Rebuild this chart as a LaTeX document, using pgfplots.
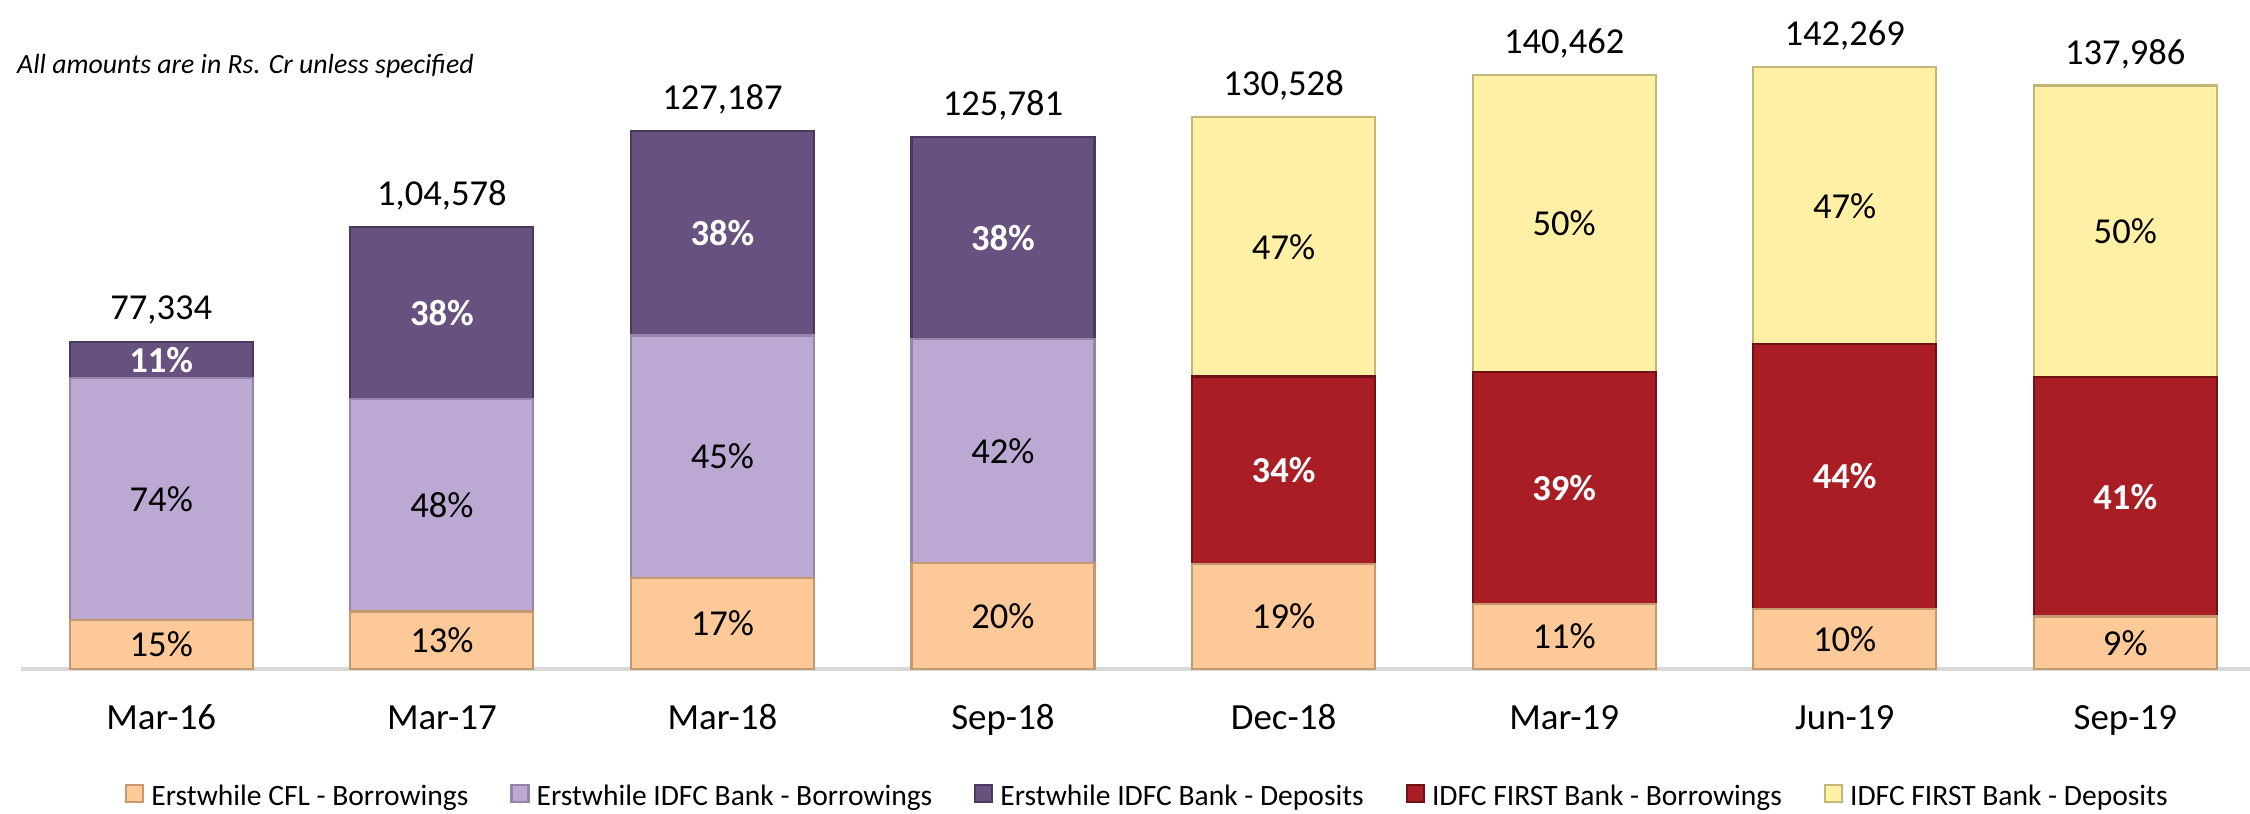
\documentclass[border=0pt]{standalone}
\usepackage{pgfplots}
\pgfplotsset{compat=1.18}
\usepackage{pgfplotstable}
\usepackage{fontspec}
\setmainfont{Carlito}

\definecolor{cflfill}{HTML}{FDC998}
\definecolor{cfldraw}{HTML}{C39A70}
\definecolor{ibbfill}{HTML}{BCA9D3}
\definecolor{ibbdraw}{HTML}{9484A8}
\definecolor{ibdfill}{HTML}{67517F}
\definecolor{ibddraw}{HTML}{4A3A5E}
\definecolor{fbfill}{HTML}{A81E24}
\definecolor{fbdraw}{HTML}{6E1216}
\definecolor{fdfill}{HTML}{FFF0A6}
\definecolor{fddraw}{HTML}{C2B678}
\definecolor{axisgray}{HTML}{D9D9D9}

% segment values in '000 Rs. Cr (total x share), labels as printed
\pgfplotstableread{
x cfl    ibb    ibd    fb     fd     pcfl  pibb  pibd  pfb   pfd
0 11.600 57.227 8.507  0      0      15\%  74\%  11\%  {}    {}
1 13.595 50.197 40.786 0      0      13\%  48\%  38\%  {}    {}
2 21.622 57.234 48.331 0      0      17\%  45\%  38\%  {}    {}
3 25.156 52.828 47.797 0      0      20\%  42\%  38\%  {}    {}
4 24.800 0      0      44.380 61.348 19\%  {}    {}    34\%  47\%
5 15.451 0      0      54.780 70.231 11\%  {}    {}    39\%  50\%
6 14.227 0      0      62.598 65.444 10\%  {}    {}    44\%  47\%
7 12.419 0      0      56.574 68.993 9\%   {}    {}    41\%  50\%
}\funding

% totals, '000 Rs. Cr and as printed
\pgfplotstableread{
x total   lbl
0 77.334  77,334
1 104.578 1,04,578
2 127.187 127,187
3 125.781 125,781
4 130.528 130,528
5 140.462 140,462
6 142.269 142,269
7 137.986 137,986
}\totals

\pgfplotsset{
    frame/.style={scale only axis, width=22.446cm, height=6.69cm,
        xmin=-0.5, xmax=7.5, ymin=0, ymax=158.2, clip=false},
}

\begin{document}
\begin{tikzpicture}
\begin{axis}[
    name=ax, frame,
    ybar stacked, bar width=1.83cm,
    axis x line*=bottom, axis y line=none,
    x axis line style={draw=axisgray, line width=1pt, -},
    xtick={0,...,7},
    xticklabels={Mar-16,Mar-17,Mar-18,Sep-18,Dec-18,Mar-19,Jun-19,Sep-19},
    major tick length=0pt,
    x tick label style={font=\fontsize{10.5}{12}\selectfont, anchor=base, yshift=-0.6cm},
    point meta=explicit symbolic,
    nodes near coords,
    every node near coord/.append style={font=\fontsize{10.4}{12}\selectfont, anchor=center, inner sep=0pt},
    legend columns=-1,
    legend style={at={(0.503,-0.193)}, anchor=center, draw=none,
        font=\fontsize{8.4}{10}\selectfont,
        /tikz/every even column/.append style={column sep=0.35cm}},
    legend image code/.code={\fill[#1] (0cm,-0.04cm) rectangle (0.17cm,0.13cm);},
]
% stacked labels already sit in the middle of their segment
\addplot[fill=cflfill, draw=cfldraw, line width=0.6pt,
    every node near coord/.append style={text=black}]
    table[x=x, y=cfl, meta=pcfl] {\funding};
\addplot[fill=ibbfill, draw=ibbdraw, line width=0.6pt,
    every node near coord/.append style={text=black}]
    table[x=x, y=ibb, meta=pibb] {\funding};
\addplot[fill=ibdfill, draw=ibddraw, line width=0.6pt,
    every node near coord/.append style={text=white, font=\fontsize{10.4}{12}\selectfont\bfseries}]
    table[x=x, y=ibd, meta=pibd] {\funding};
\addplot[fill=fbfill, draw=fbdraw, line width=0.6pt,
    every node near coord/.append style={text=white, font=\fontsize{10.4}{12}\selectfont\bfseries}]
    table[x=x, y=fb, meta=pfb] {\funding};
\addplot[fill=fdfill, draw=fddraw, line width=0.6pt,
    every node near coord/.append style={text=black}]
    table[x=x, y=fd, meta=pfd] {\funding};

\legend{Erstwhile CFL - Borrowings, Erstwhile IDFC Bank - Borrowings,
    Erstwhile IDFC Bank - Deposits, IDFC FIRST Bank - Borrowings, IDFC FIRST Bank - Deposits}

\node[anchor=west, inner sep=0pt, font=\fontsize{7.9}{10}\selectfont\itshape]
    at (rel axis cs:-0.002,0.901) {All amounts are in Rs. Cr unless specified};
\end{axis}

% totals above the bars
\begin{axis}[frame, at={(ax.south west)}, anchor=south west, hide axis,
    point meta=explicit symbolic]
\addplot[only marks, mark=none, nodes near coords,
    every node near coord/.append style={font=\fontsize{10.4}{12}\selectfont, anchor=center, inner sep=0pt, yshift=0.315cm}]
    table[x=x, y=total, meta=lbl] {\totals};
\end{axis}

\pgfresetboundingbox
\path (ax.south west) ++(-0.21cm,-1.44cm) rectangle ++(22.5cm,8.13cm);
\end{tikzpicture}
\end{document}
